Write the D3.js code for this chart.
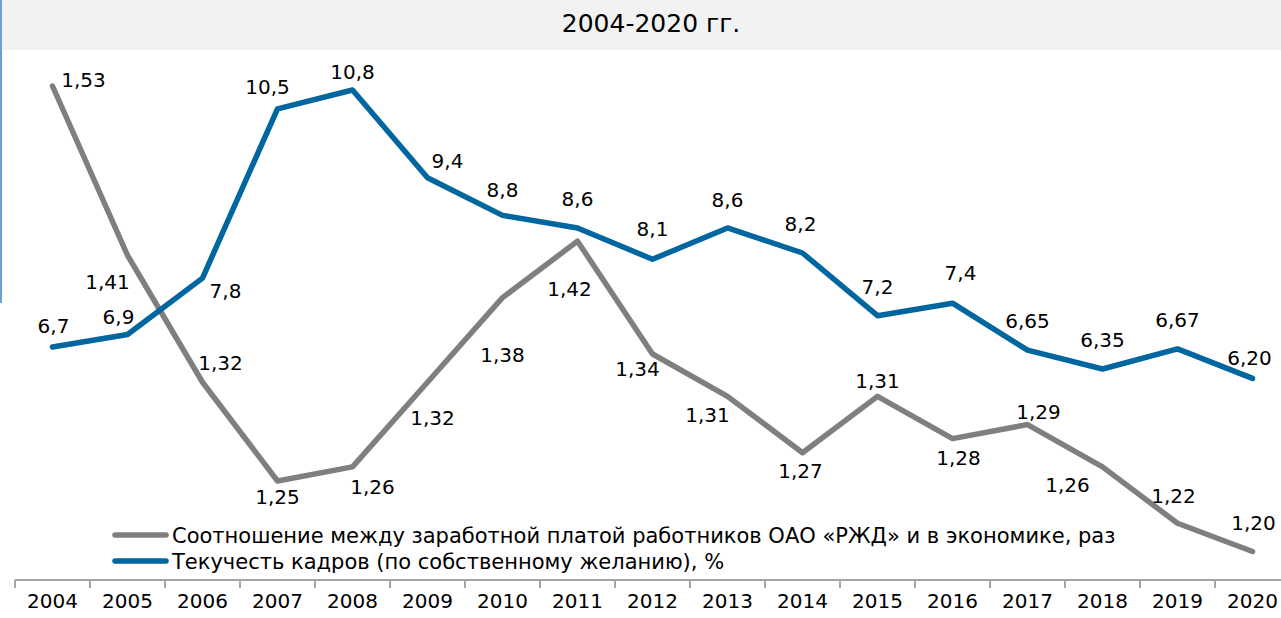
<!DOCTYPE html>
<html>
<head>
<meta charset="utf-8">
<script src="https://cdn.jsdelivr.net/npm/d3@7"></script>
<style>
  html, body { margin: 0; padding: 0; background: #fff; }
  svg { display: block; font-family: "DejaVu Sans", Verdana, sans-serif; }
</style>
</head>
<body>
<svg id="chart" width="1281" height="618"></svg>
<script>
// Daten
const years = ["2004","2005","2006","2007","2008","2009","2010","2011","2012",
               "2013","2014","2015","2016","2017","2018","2019","2020"];
const ratioValues = [1.53, 1.41, 1.32, 1.25, 1.26, 1.32, 1.38, 1.42, 1.34,
                     1.31, 1.27, 1.31, 1.28, 1.29, 1.26, 1.22, 1.20];
const turnoverValues = [6.7, 6.9, 7.8, 10.5, 10.8, 9.4, 8.8, 8.6, 8.1,
                        8.6, 8.2, 7.2, 7.4, 6.65, 6.35, 6.67, 6.20];
const ratioLabels = ["1,53","1,41","1,32","1,25","1,26","1,32","1,38","1,42","1,34",
                     "1,31","1,27","1,31","1,28","1,29","1,26","1,22","1,20"];
const turnoverLabels = ["6,7","6,9","7,8","10,5","10,8","9,4","8,8","8,6","8,1",
                        "8,6","8,2","7,2","7,4","6,65","6,35","6,67","6,20"];
const seriesNames = [
  "Соотношение между заработной платой работников ОАО «РЖД» и в экономике, раз",
  "Текучесть кадров (по собственному желанию), %"
];
const titleText = "2004-2020 гг.";

// Label-Versatz (px) je Punkt, wie im Original platziert
const ratioLabelOffsets = [[31,-6],[-20,27],[18,-19],[0,16],[20,20],[5,36],[0,57],[-8,48],[-15,15],
                           [-20,19],[-2,18],[0,-15],[6,19],[11,-13],[-35,18],[-4,-27],[1,-29]];
const turnoverLabelOffsets = [[1,-21],[-9,-18],[23,13],[-10,-22],[0,-18],[20,-17],[0,-25],[0,-29],[0,-30],
                              [0,-28],[-2,-29],[0,-29],[8,-30],[0,-29],[0,-29],[0,-29],[-3,-20]];

const colorRatio = "#7f7f7f";
const colorTurnover = "#00669f";

const svg = d3.select("#chart");
const W = 1281, H = 618;

// Titelleiste
svg.append("rect")
  .attr("x", 2).attr("y", 0)
  .attr("width", W - 2).attr("height", 50)
  .attr("fill", "#f2f2f2");

svg.append("line")
  .attr("x1", 1).attr("x2", 1)
  .attr("y1", 0).attr("y2", 303)
  .attr("stroke", "#6a9fd8")
  .attr("stroke-width", 2);

svg.append("text")
  .attr("x", 651)
  .attr("y", 32)
  .attr("text-anchor", "middle")
  .attr("font-size", "25px")
  .attr("fill", "#000")
  .text(titleText);

// Skalen
const x = d3.scaleBand()
  .domain(years)
  .range([15, 15 + 75 * years.length])
  .padding(0);

const yRatio = d3.scaleLinear()
  .domain([1.20, 1.53])
  .range([551.5, 86]);

const yTurnover = d3.scaleLinear()
  .domain([6.2, 10.8])
  .range([378.4, 90]);

const cx = d => x(d) + x.bandwidth() / 2;

// Achse
const axisY = 580;
const xAxis = svg.append("g")
  .attr("transform", `translate(0,${axisY})`)
  .call(d3.axisBottom(x).tickSize(0).tickPadding(20).tickSizeOuter(0));

xAxis.select(".domain")
  .attr("stroke", "#a6a6a6")
  .attr("stroke-width", 2)
  .attr("d", `M15,0H${W}`);

xAxis.selectAll(".tick text")
  .attr("font-size", "20px")
  .attr("font-family", "DejaVu Sans, Verdana, sans-serif")
  .attr("fill", "#000")
  .attr("dy", "0.71em")
  .attr("y", 14);

// Trennstriche zwischen Kategorien
const boundaries = years.map(d => x(d)).concat([x.range()[1]]);
svg.append("g")
  .selectAll("line")
  .data(boundaries)
  .join("line")
    .attr("x1", d => d).attr("x2", d => d)
    .attr("y1", axisY).attr("y2", axisY + 8)
    .attr("stroke", "#a6a6a6")
    .attr("stroke-width", 2);

// Linien
const ratioLine = d3.line()
  .x((d, i) => cx(years[i]))
  .y(d => yRatio(d));

const turnoverLine = d3.line()
  .x((d, i) => cx(years[i]))
  .y(d => yTurnover(d));

svg.append("path")
  .datum(ratioValues)
  .attr("d", ratioLine)
  .attr("fill", "none")
  .attr("stroke", colorRatio)
  .attr("stroke-width", 5.5)
  .attr("stroke-linejoin", "round")
  .attr("stroke-linecap", "round");

svg.append("path")
  .datum(turnoverValues)
  .attr("d", turnoverLine)
  .attr("fill", "none")
  .attr("stroke", colorTurnover)
  .attr("stroke-width", 5.5)
  .attr("stroke-linejoin", "round")
  .attr("stroke-linecap", "round");

// Datenbeschriftungen
function addLabels(values, labels, offsets, yScale) {
  svg.append("g")
    .selectAll("text")
    .data(values)
    .join("text")
      .attr("x", (d, i) => cx(years[i]) + offsets[i][0])
      .attr("y", (d, i) => yScale(d) + offsets[i][1])
      .attr("text-anchor", "middle")
      .attr("dominant-baseline", "central")
      .attr("font-size", "20px")
      .attr("fill", "#000")
      .text((d, i) => labels[i]);
}

addLabels(ratioValues, ratioLabels, ratioLabelOffsets, yRatio);
addLabels(turnoverValues, turnoverLabels, turnoverLabelOffsets, yTurnover);

// Legende
const legendData = [
  { name: seriesNames[0], color: colorRatio },
  { name: seriesNames[1], color: colorTurnover }
];

const lg = svg.append("g")
  .selectAll("g")
  .data(legendData)
  .join("g")
    .attr("transform", (d, i) => `translate(115, ${535 + i * 26})`);

lg.append("line")
  .attr("x1", 0).attr("x2", 51)
  .attr("y1", 0).attr("y2", 0)
  .attr("stroke", d => d.color)
  .attr("stroke-width", 5.5)
  .attr("stroke-linecap", "round");

lg.append("text")
  .attr("x", 57)
  .attr("y", 1)
  .attr("dominant-baseline", "central")
  .attr("font-size", "21px")
  .attr("fill", "#000")
  .text(d => d.name);
</script>
</body>
</html>
